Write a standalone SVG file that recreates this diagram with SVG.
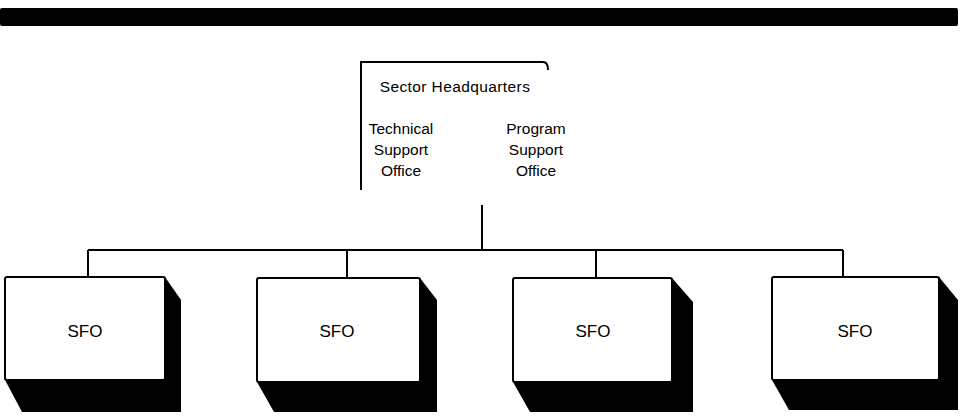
<svg xmlns="http://www.w3.org/2000/svg" width="962" height="420" viewBox="0 0 962 420">
<style>
.t{font-family:"Liberation Sans",Arial,sans-serif;font-size:15.5px;fill:#000;text-anchor:middle}
.s{font-family:"Liberation Sans",Arial,sans-serif;font-size:17px;fill:#000;text-anchor:middle}
.box{fill:#fff;stroke:#000;stroke-width:2}
.sh{fill:#000}
.ln{stroke:#000;stroke-width:2;fill:none}
</style>
<rect x="0" y="8" width="958" height="18" rx="2" fill="#000"/>
<g id="hq">
<path class="ln" d="M361 190 V62 H543 Q548 62 548 70"/>
<text class="t" x="455" y="92" letter-spacing="0.4">Sector Headquarters</text>
<text class="t" x="401" y="134">Technical</text>
<text class="t" x="401" y="155">Support</text>
<text class="t" x="401" y="176">Office</text>
<text class="t" x="536" y="134">Program</text>
<text class="t" x="536" y="155">Support</text>
<text class="t" x="536" y="176">Office</text>
</g>
<g id="connectors">
<line class="ln" x1="482" y1="205" x2="482" y2="251" stroke-width="3"/>
<line class="ln" x1="88" y1="250" x2="843" y2="250"/>
<line class="ln" x1="88" y1="250" x2="88" y2="277"/>
<line class="ln" x1="347" y1="250" x2="347" y2="278"/>
<line class="ln" x1="596" y1="250" x2="596" y2="278"/>
<line class="ln" x1="843" y1="250" x2="843" y2="277"/>
</g>
<g id="sfo1">
<polygon class="sh" points="165,277 181,300 181,412 22,412 5,380"/>
<rect class="box" x="5" y="277" width="160" height="103" rx="2"/>
<text class="s" x="85" y="337">SFO</text>
</g>
<g id="sfo2">
<polygon class="sh" points="420,278 437,300 437,412 274,412 257,382"/>
<rect class="box" x="257" y="278" width="163" height="104" rx="2"/>
<text class="s" x="337" y="337">SFO</text>
</g>
<g id="sfo3">
<polygon class="sh" points="672,278 693,302 693,412 530,412 513,382"/>
<rect class="box" x="513" y="278" width="159" height="104" rx="2"/>
<text class="s" x="593" y="337">SFO</text>
</g>
<g id="sfo4">
<polygon class="sh" points="939,277 958,300 958,410 789,410 772,380"/>
<rect class="box" x="772" y="277" width="167" height="103" rx="2"/>
<text class="s" x="855" y="337">SFO</text>
</g>
</svg>
